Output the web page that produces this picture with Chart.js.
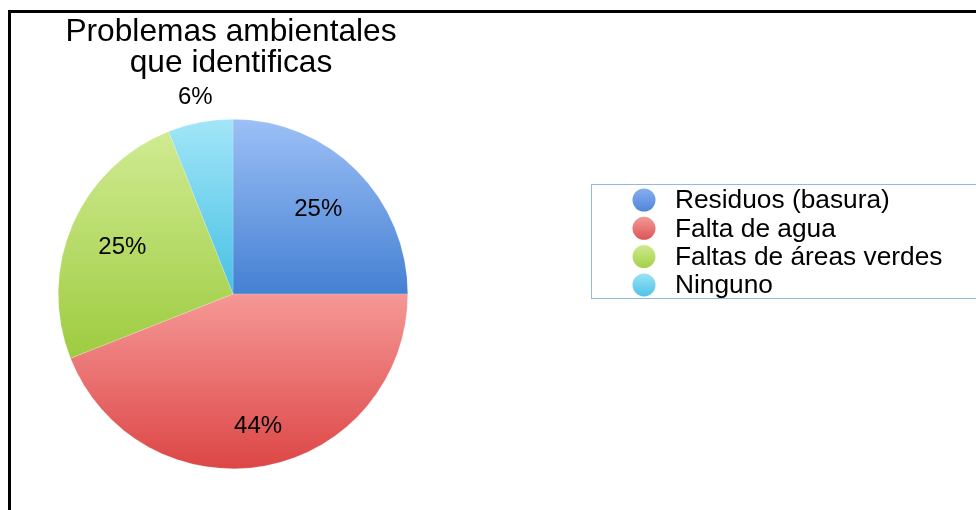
<!DOCTYPE html>
<html>
<head>
<meta charset="utf-8">
<script src="https://cdn.jsdelivr.net/npm/chart.js@4/dist/chart.umd.min.js"></script>
<style>
  html, body { margin: 0; padding: 0; background: #ffffff; }
  #wrap { position: relative; width: 976px; height: 510px; overflow: hidden; }
  canvas { display: block; }
</style>
</head>
<body>
<div id="wrap"><canvas id="c" width="976" height="510"></canvas></div>
<script>
// ---- data ----
const titleLines = ['Problemas ambientales', 'que identificas'];
const categories = ['Residuos (basura)', 'Falta de agua', 'Faltas de áreas verdes', 'Ninguno'];
const percentages = [25, 44, 25, 6];
const percentLabels = ['25%', '44%', '25%', '6%'];

// ---- styles ----
const gradientStops = [
  [[0, '#9cc0f6'], [0.5, '#4580d3'], [1, '#4580d3']],
  [[0, '#f7a3a0'], [0.5, '#f59896'], [1, '#dc4646']],
  [[0, '#d3ec97'], [0.05, '#cfea90'], [0.7, '#9ccb3e'], [1, '#9ccb3e']],
  [[0, '#a2e6f8'], [0.5, '#47c0e4'], [1, '#47c0e4']]
];
const legendColors = [
  ['#86aef0', '#4f86d8'],
  ['#f29a98', '#de5454'],
  ['#cfea90', '#a3cf48'],
  ['#9ae3f7', '#4dc3e6']
];
const labelRadiusFactors = [0.69, 0.765, 0.69, 1.15];
const FONT = '"Liberation Sans", Arial, Helvetica, sans-serif';

function sliceGradient(context) {
  const chart = context.chart;
  const area = chart.chartArea;
  const i = context.dataIndex;
  if (!area || i === undefined) return gradientStops[i || 0][1][1];
  const g = chart.ctx.createLinearGradient(0, area.top, 0, area.bottom);
  gradientStops[i].forEach(s => g.addColorStop(s[0], s[1]));
  return g;
}

const decorPlugin = {
  id: 'decor',
  beforeDraw(chart) {
    const ctx = chart.ctx;
    ctx.save();
    // outer frame (top + left only visible)
    ctx.fillStyle = '#000000';
    ctx.fillRect(8, 10, 976, 3);
    ctx.fillRect(8, 10, 3, 510);
    // title
    ctx.fillStyle = '#000000';
    ctx.font = '31.7px ' + FONT;
    ctx.textAlign = 'center';
    ctx.textBaseline = 'alphabetic';
    ctx.fillText(titleLines[0], 231, 41);
    ctx.fillText(titleLines[1], 231, 72);
    // legend box
    ctx.strokeStyle = '#8fbbe6';
    ctx.lineWidth = 1;
    ctx.strokeRect(591.5, 184.5, 420, 114);
    // legend items
    ctx.textAlign = 'left';
    ctx.textBaseline = 'middle';
    ctx.font = '26.3px ' + FONT;
    categories.forEach((lab, i) => {
      const cy = 200 + i * 28.3;
      const g = ctx.createLinearGradient(0, cy - 11.5, 0, cy + 11.5);
      g.addColorStop(0, legendColors[i][0]);
      g.addColorStop(1, legendColors[i][1]);
      ctx.fillStyle = g;
      ctx.beginPath();
      ctx.arc(644, cy, 11.5, 0, Math.PI * 2);
      ctx.fill();
      ctx.fillStyle = '#000000';
      ctx.fillText(lab, 675, cy + 1);
    });
    ctx.restore();
  },
  afterDatasetsDraw(chart) {
    const ctx = chart.ctx;
    const meta = chart.getDatasetMeta(0);
    ctx.save();
    ctx.fillStyle = '#000000';
    ctx.font = '24px ' + FONT;
    ctx.textAlign = 'center';
    ctx.textBaseline = 'middle';
    meta.data.forEach((arc, i) => {
      const p = arc.getProps(['x', 'y', 'startAngle', 'endAngle', 'outerRadius'], true);
      const mid = (p.startAngle + p.endAngle) / 2;
      const r = p.outerRadius * labelRadiusFactors[i];
      ctx.fillText(percentLabels[i], p.x + Math.cos(mid) * r, p.y + Math.sin(mid) * r + 1);
    });
    ctx.restore();
  }
};

new Chart(document.getElementById('c'), {
  type: 'pie',
  data: {
    labels: categories,
    datasets: [{
      data: percentages,
      backgroundColor: sliceGradient,
      borderColor: 'rgba(255,255,255,0.35)',
      borderWidth: 0.5
    }]
  },
  options: {
    responsive: false,
    animation: false,
    layout: { padding: { left: 58, top: 119, right: 568, bottom: 41 } },
    plugins: {
      legend: { display: false },
      title: { display: false },
      tooltip: { enabled: false }
    }
  },
  plugins: [decorPlugin]
});
</script>
</body>
</html>
